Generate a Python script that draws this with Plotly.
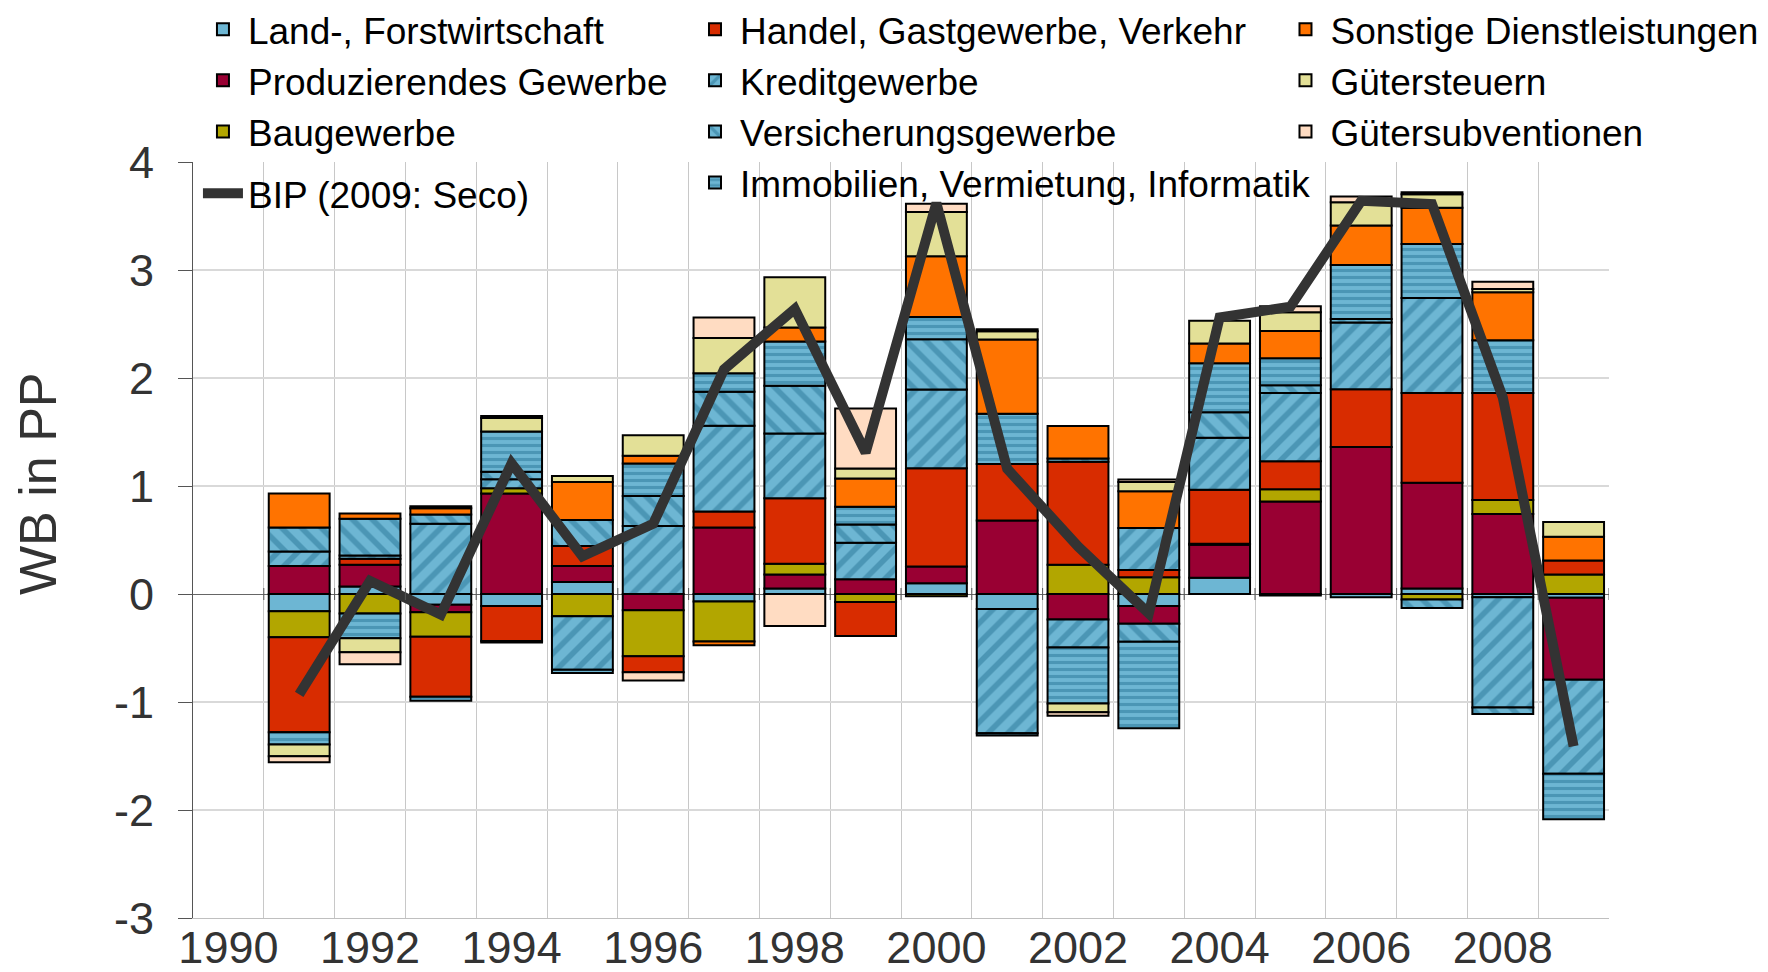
import plotly.graph_objects as go

years = list(range(1991, 2010))

land = [-0.16, 0.07, -0.10, -0.11, 0.11, None, -0.07, 0.05, None, 0.10,
        -0.14, None, -0.11, 0.15, -0.015, -0.03, 0.05, -0.03, -0.035]
prod = [0.26, 0.20, -0.07, 0.93, 0.15, -0.15, 0.615, 0.13, 0.137, 0.154,
        0.68, -0.235, -0.166, 0.306, 0.857, 1.36, 0.98, 0.74, -0.76]
bau = [-0.24, -0.18, -0.225, 0.05, -0.207, -0.427, -0.37, 0.10, -0.075, -0.02,
       None, 0.27, 0.156, 0.01, 0.113, None, -0.05, 0.13, 0.18]
handel = [-0.88, 0.056, -0.556, -0.325, 0.185, -0.148, 0.148, 0.606, -0.315, 0.91,
          0.523, 0.955, 0.066, 0.50, 0.26, 0.535, 0.83, 0.99, 0.13]
kredit = [0.133, 0.03, 0.65, 0.083, -0.495, 0.63, 0.795, 0.60, 0.337, 0.73,
          -1.15, -0.26, 0.39, 0.48, 0.63, 0.618, 0.88, -1.02, -0.87]
versich = [0.223, 0.34, 0.087, 0.068, 0.24, 0.278, 0.315, 0.442, 0.17, 0.465,
           -0.02, 0.03, -0.166, 0.236, 0.073, 0.033, -0.08, -0.06, None]
immo = [-0.114, -0.23, -0.037, 0.374, -0.03, 0.30, 0.17, 0.41, 0.164, 0.206,
        0.467, -0.52, -0.80, 0.455, 0.25, 0.50, 0.50, 0.49, -0.42]
sonst = [0.315, 0.05, 0.056, -0.015, 0.352, 0.071, -0.034, 0.13, 0.262, 0.563,
         0.687, 0.30, 0.34, 0.183, 0.252, 0.365, 0.336, 0.445, 0.22]
steuern = [-0.108, -0.13, 0.02, 0.124, 0.056, 0.19, 0.328, 0.464, 0.092, 0.41,
           0.075, -0.08, 0.086, 0.21, 0.173, 0.216, 0.125, 0.03, 0.137]
subv = [-0.056, -0.11, None, 0.02, None, -0.077, 0.19, -0.297, 0.556, 0.075,
        0.02, -0.033, 0.023, None, 0.056, 0.053, 0.02, 0.066, None]
bip = [-0.93, 0.12, -0.19, 1.21, 0.35, 0.65, 2.08, 2.64, 1.31, 3.62,
       1.16, 0.44, -0.18, 2.56, 2.66, 3.64, 3.61, 1.82, -1.41]

tick_years = list(range(1990, 2009, 2))
y_ticks = list(range(-3, 5))

FONT = "Liberation Sans, Arial, sans-serif"
BG = "#6DB6D3"
FG = "#2A7597"

series = [
    ("Land-, Forstwirtschaft", land, "#6DB6D3", None, "legend"),
    ("Produzierendes Gewerbe", prod, "#990033", None, "legend"),
    ("Baugewerbe", bau, "#B2A600", None, "legend"),
    ("Handel, Gastgewerbe, Verkehr", handel, "#D82C00", None, "legend2"),
    ("Kreditgewerbe", kredit, BG, ("/", 14, 0.4), "legend2"),
    ("Versicherungsgewerbe", versich, BG, ("\\", 14, 0.4), "legend2"),
    ("Immobilien, Vermietung, Informatik", immo, BG, ("-", 7, 0.45), "legend2"),
    ("Sonstige Dienstleistungen", sonst, "#FF7300", None, "legend3"),
    ("Gütersteuern", steuern, "#E3E097", None, "legend3"),
    ("Gütersubventionen", subv, "#FFDCC2", None, "legend3"),
]

fig = go.Figure()
for name, vals, col, pat, lg in series:
    marker = dict(color=col, line=dict(color="black", width=2))
    if pat:
        marker["pattern"] = dict(shape=pat[0], size=pat[1], solidity=pat[2],
                                 fgcolor=FG, bgcolor=BG, fillmode="overlay")
    fig.add_trace(go.Bar(x=years, y=vals, name=name, marker=marker,
                         width=0.86, legend=lg))

fig.add_trace(go.Scatter(x=years, y=bip, name="BIP (2009: Seco)", mode="lines",
                         line=dict(color="#333333", width=10), legend="legend4"))

# small tick marks on the zero line at category boundaries
for b in range(1990, 2010):
    fig.add_shape(type="line", xref="x", yref="y", x0=b + 0.5, x1=b + 0.5,
                  ysizemode="pixel", yanchor=0, y0=-6, y1=6,
                  line=dict(color="#555555", width=1))

legend_common = dict(font=dict(family=FONT, size=37, color="black"),
                     bgcolor="rgba(0,0,0,0)", xanchor="left", yanchor="top",
                     orientation="v", traceorder="normal", tracegroupgap=0,
                     itemwidth=40)

fig.add_annotation(text="WB in PP", xref="paper", yref="paper", x=-0.109, y=0.575,
                   xanchor="center", yanchor="middle", textangle=-90, showarrow=False,
                   font=dict(size=52, color="#333333", family=FONT))

fig.update_layout(
    width=1768, height=972,
    margin=dict(l=185, r=167, t=154, b=62, autoexpand=False),
    paper_bgcolor="white", plot_bgcolor="white",
    barmode="relative",
    font=dict(family=FONT, color="#333333"),
    showlegend=True,
    legend=dict(x=0.0035, y=1.2160, **legend_common),
    legend2=dict(x=0.351, y=1.2160, **legend_common),
    legend3=dict(x=0.768, y=1.2160, **legend_common),
    legend4=dict(x=0.0035, y=0.999, **legend_common),
    xaxis=dict(range=[1989.5, 2009.5], tickmode="array", tickvals=tick_years,
               ticktext=[str(t) for t in tick_years], showgrid=False,
               tickfont=dict(size=45, color="#333333", family=FONT),
               ticks="", showline=True, linecolor="#BFBFBF", linewidth=1,
               zeroline=False, ticklabelstandoff=-10,
               minor=dict(tickmode="linear", tick0=1990.5, dtick=1, showgrid=True,
                          gridcolor="#C8C8C8", gridwidth=1, ticks="")),
    yaxis=dict(range=[-3, 4], tickmode="array", tickvals=y_ticks,
               ticktext=[str(v) for v in y_ticks], showgrid=True,
               gridcolor="#D9D9D9", gridwidth=2,
               zeroline=True, zerolinecolor="#666666", zerolinewidth=1,
               showline=True, linecolor="#555555", linewidth=1,
               ticks="outside", ticklen=14, tickcolor="#555555",
               tickfont=dict(size=45, color="#333333", family=FONT),
               ticklabelstandoff=15),
)

fig.write_html("out.html")
